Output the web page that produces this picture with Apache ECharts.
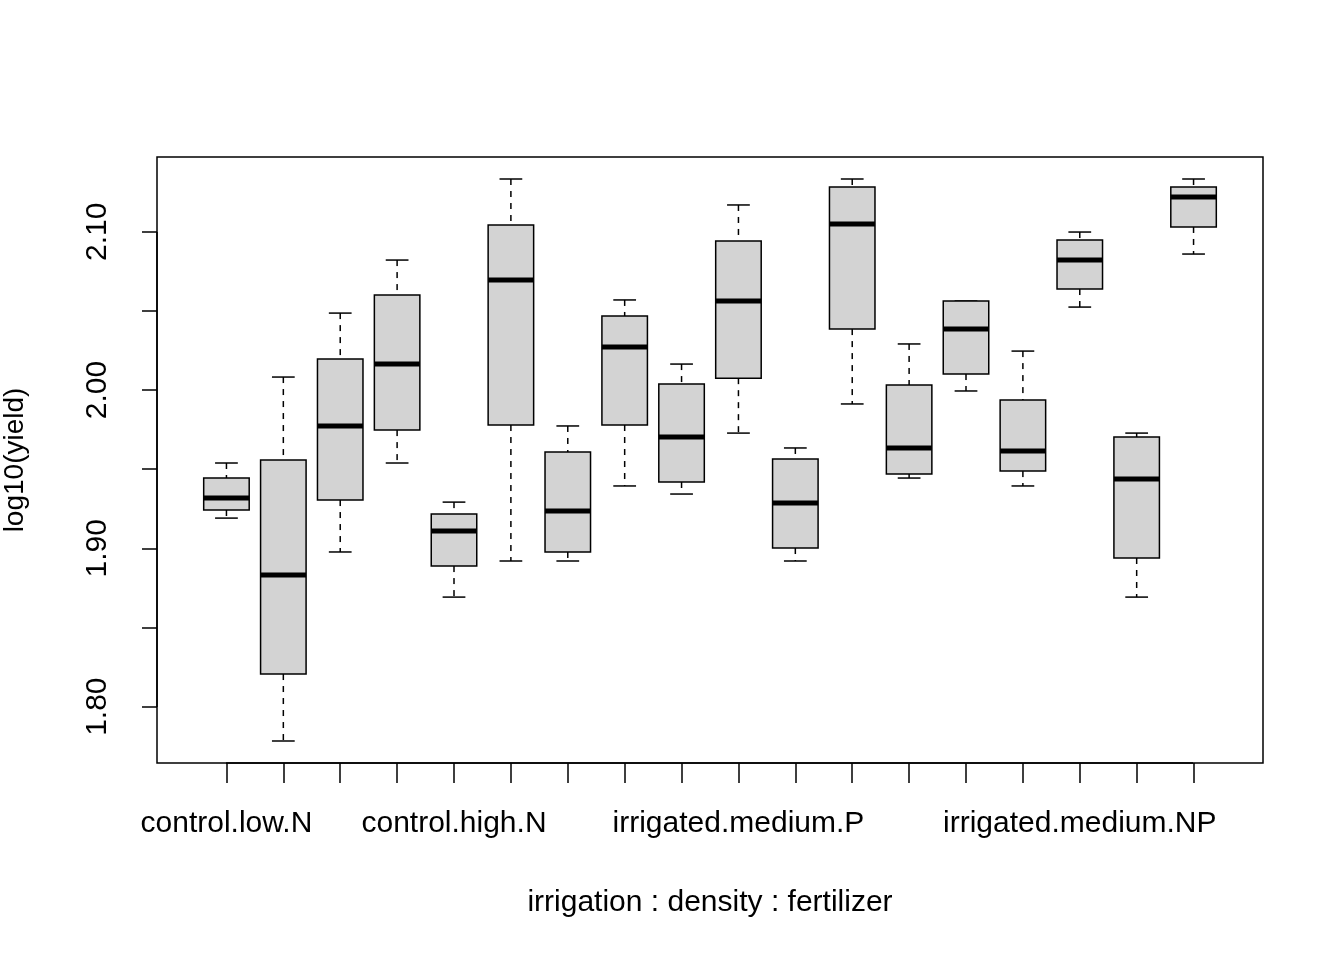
<!DOCTYPE html>
<html>
<head>
<meta charset="utf-8">
<script src="https://cdn.jsdelivr.net/npm/echarts@6/dist/echarts.min.js"></script>
<style>html,body{margin:0;background:#fff}#chart{width:1344px;height:960px}</style>
</head>
<body>
<div id="chart"></div>
<script>
// grupos (irrigation varía más rápido, como en R)
const grupos = [
  'control.low.N', 'irrigated.low.N', 'control.medium.N', 'irrigated.medium.N',
  'control.high.N', 'irrigated.high.N', 'control.low.P', 'irrigated.low.P',
  'control.medium.P', 'irrigated.medium.P', 'control.high.P', 'irrigated.high.P',
  'control.low.NP', 'irrigated.low.NP', 'control.medium.NP', 'irrigated.medium.NP',
  'control.high.NP', 'irrigated.high.NP'
];
const minimos = [1.9191, 1.7783, 1.8977, 1.9539, 1.8692, 1.8920, 1.8920, 1.9394, 1.9343, 1.9728, 1.8920, 1.9912, 1.9444, 1.9994, 1.9394, 2.0524, 1.8692, 2.0859];
const cuartil1 = [1.9242, 1.8206, 1.9305, 1.9747, 1.8888, 1.9779, 1.8977, 1.9779, 1.9419, 2.0075, 1.9002, 2.0385, 1.9469, 2.0101, 1.9488, 2.0638, 1.8939, 2.1030];
const medianas = [1.9318, 1.8831, 1.9773, 2.0164, 1.9109, 2.0695, 1.9236, 2.0272, 1.9703, 2.0562, 1.9286, 2.1049, 1.9634, 2.0385, 1.9615, 2.0821, 1.9438, 2.1219];
const cuartil3 = [1.9444, 1.9558, 2.0196, 2.0600, 1.9217, 2.1042, 1.9608, 2.0467, 2.0038, 2.0941, 1.9564, 2.1282, 2.0032, 2.0562, 1.9937, 2.0948, 1.9703, 2.1282];
const maximos = [1.9539, 2.0082, 2.0486, 2.0821, 1.9292, 2.1333, 1.9773, 2.0569, 2.0164, 2.1169, 1.9634, 2.1333, 2.0291, 2.0562, 2.0246, 2.0998, 1.9728, 2.1333];
const ticksY = [1.80, 1.85, 1.90, 1.95, 2.00, 2.05, 2.10];
const etiquetasY = [1.80, 1.90, 2.00, 2.10];
const etiquetasX = [0, 4, 9, 15];

const datos = grupos.map((g, i) => [i, minimos[i], cuartil1[i], medianas[i], cuartil3[i], maximos[i]]);
const fuente = 'Liberation Sans, Arial, sans-serif';

function dibujarCaja(params, api) {
  const i = api.value(0);
  const ancho = api.size([1, 0])[0];
  const medio = ancho * 0.4;
  const tapa = ancho * 0.2;
  const p = k => api.coord([i, api.value(k)]);
  const lo = p(1), q1 = p(2), med = p(3), q3 = p(4), hi = p(5);
  const x = lo[0];
  const negro = { stroke: '#000', lineWidth: 1.5 };
  const punteado = { stroke: '#000', lineWidth: 1.5, lineDash: [6, 6] };
  return {
    type: 'group',
    children: [
      { type: 'line', shape: { x1: x, y1: hi[1], x2: x, y2: q3[1] }, style: punteado },
      { type: 'line', shape: { x1: x, y1: q1[1], x2: x, y2: lo[1] }, style: punteado },
      { type: 'line', shape: { x1: x - tapa, y1: hi[1], x2: x + tapa, y2: hi[1] }, style: negro },
      { type: 'line', shape: { x1: x - tapa, y1: lo[1], x2: x + tapa, y2: lo[1] }, style: negro },
      { type: 'rect', shape: { x: x - medio, y: q3[1], width: medio * 2, height: q1[1] - q3[1] },
        style: { fill: '#d3d3d3', stroke: '#000', lineWidth: 1.5 } },
      { type: 'line', shape: { x1: x - medio, y1: med[1], x2: x + medio, y2: med[1] },
        style: { stroke: '#000', lineWidth: 5 } }
    ]
  };
}

const myChart = echarts.init(document.getElementById('chart'));
const option = {
  backgroundColor: '#fff',
  animation: false,
  grid: { left: 198, right: 122, top: 157, bottom: 197, containLabel: false, outerBoundsMode: 'none' },
  xAxis: {
    type: 'category',
    data: grupos,
    name: 'irrigation : density : fertilizer',
    nameLocation: 'middle',
    nameGap: 125,
    nameTextStyle: { fontFamily: fuente, fontSize: 30, color: '#000' },
    axisLine: { show: false },
    axisTick: { show: true, alignWithLabel: true, interval: 0, length: 20, lineStyle: { color: '#000', width: 1.5 } },
    axisLabel: {
      interval: (idx) => etiquetasX.includes(idx),
      margin: 46,
      fontFamily: fuente, fontSize: 30, color: '#000'
    },
    splitLine: { show: false }
  },
  yAxis: {
    type: 'value',
    min: 1.7644,
    max: 2.1472,
    name: 'log10(yield)',
    nameLocation: 'middle',
    nameGap: 128,
    nameTextStyle: { fontFamily: fuente, fontSize: 28, color: '#000' },
    offset: 41,
    axisLine: { show: false },
    axisTick: { show: true, length: 15, customValues: ticksY, lineStyle: { color: '#000', width: 1.5 } },
    axisLabel: {
      customValues: etiquetasY,
      rotate: 90,
      margin: 44,
      fontFamily: fuente, fontSize: 30, color: '#000',
      formatter: v => v.toFixed(2)
    },
    splitLine: { show: false }
  },
  graphic: [
    { type: 'rect', shape: { x: 157, y: 157, width: 1106, height: 606 },
      style: { fill: null, stroke: '#000', lineWidth: 1.5 }, z: 100 },
    { type: 'line', shape: { x1: 226, y1: 763, x2: 1193, y2: 763 },
      style: { stroke: '#000', lineWidth: 1.5 }, z: 100 },
    { type: 'line', shape: { x1: 157, y1: 232, x2: 157, y2: 707 },
      style: { stroke: '#000', lineWidth: 1.5 }, z: 100 }
  ],
  series: [{
    type: 'custom',
    renderItem: dibujarCaja,
    data: datos,
    encode: { x: 0, y: [1, 2, 3, 4, 5] }
  }]
};
myChart.setOption(option);
</script>
</body>
</html>
